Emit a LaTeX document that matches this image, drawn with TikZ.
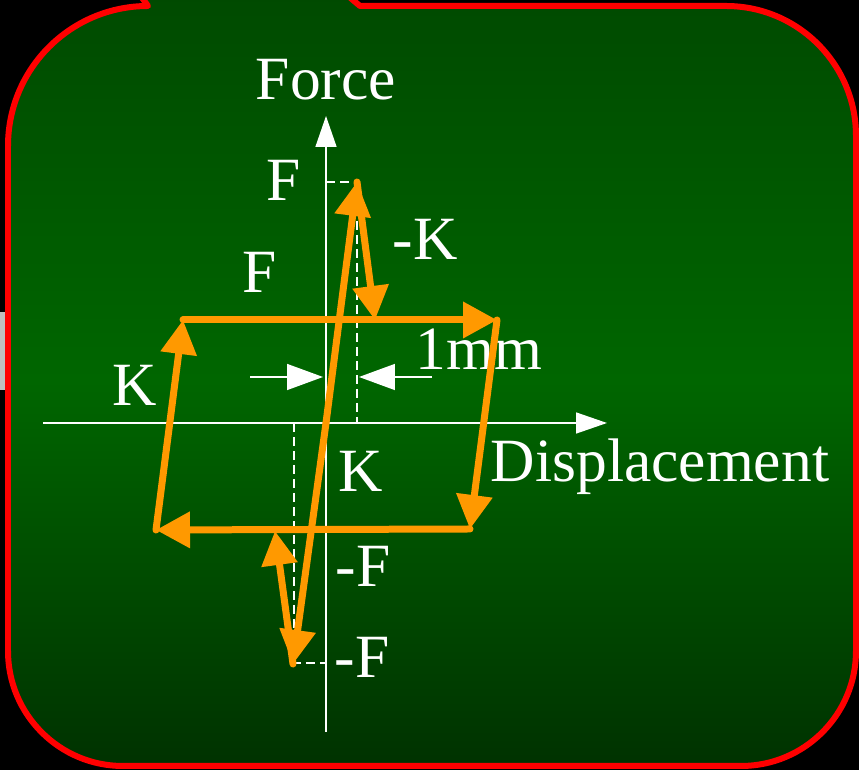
\documentclass[tikz,border=0pt]{standalone}
\usepackage{fontspec}
\setmainfont{Liberation Serif}
\usetikzlibrary{arrows.meta}

\definecolor{loopOrange}{RGB}{255,153,0}
\definecolor{frameRed}{RGB}{255,0,0}
\definecolor{greenTop}{RGB}{0,74,0}
\definecolor{greenMid}{RGB}{0,102,0}
\definecolor{greenBot}{RGB}{0,50,0}

\begin{document}
\begin{tikzpicture}[
    x=0.02cm, y=0.02cm,
    panel/.style={draw=frameRed, line width=0.12cm, line join=round, top color=greenTop, bottom color=greenBot, middle color=greenMid},
    axisline/.style={white, line width=0.03cm, -{Triangle[length=0.62cm, width=0.42cm]}},
    guideline/.style={white, line width=0.03cm, dash pattern=on 0.18cm off 0.1cm},
    dimline/.style={white, line width=0.03cm, -{Triangle[length=0.72cm, width=0.52cm]}},
    hyst/.style={loopOrange, line width=0.14cm, line cap=round, line join=round, -{Triangle[length=0.68cm, width=0.7cm]}},
    lbl/.style={text=white, font=\fontsize{35}{42}\selectfont, inner sep=0pt, anchor=base}
]
    % Canvas
    \useasboundingbox (0,0) rectangle (859,770);
    \fill[black] (0,0) rectangle (859,770);
    \clip (0,0) rectangle (859,770);
    \fill[black!25] (0,380) rectangle (6,458);

    % Panel with callout tail
    \path[panel] (8,624) arc[start angle=180, end angle=90, radius=140]
        -- (140,775) -- (347,775) -- (360,764) -- (726,764)
        arc[start angle=90, end angle=0, radius=130] -- (856,119)
        arc[start angle=0, end angle=-90, radius=115] -- (123,4)
        arc[start angle=270, end angle=180, radius=115] -- cycle;

    % Points
    \coordinate (orig) at (326,347);
    \coordinate (xl) at (43,347);
    \coordinate (xr) at (607,347);
    \coordinate (yb) at (326,38);
    \coordinate (yt) at (326,654);
    \coordinate (tl) at (183,450);
    \coordinate (tr) at (497,450);
    \coordinate (br) at (470,241);
    \coordinate (bl) at (156,240);
    \coordinate (peak) at (357,588);
    \coordinate (unld) at (375,450);
    \coordinate (trough) at (293,106);
    \coordinate (reld) at (275,239);
    \coordinate (peakax) at (326,588);
    \coordinate (peakft) at (357,347);
    \coordinate (troughax) at (326,107);
    \coordinate (troughft) at (294,347);
    \coordinate (troughcr) at (294,107);
    \coordinate (dl1) at (250,393);
    \coordinate (dl2) at (323,393);
    \coordinate (dr1) at (432,393);
    \coordinate (dr2) at (359,393);

    % Axes and guides
    \draw[axisline] (xl) -- (xr);
    \draw[axisline] (yb) -- (yt);
    \draw[guideline] (peakax) -- (peak) -- (peakft);
    \draw[guideline] (troughft) -- (troughcr) -- (troughax);
    \draw[dimline] (dl1) -- (dl2);
    \draw[dimline] (dr1) -- (dr2);

    % Labels
    \node[lbl] (force) at (326,670) {Force};
    \node[lbl] (disp) at (660,288) {Displacement};
    \node[lbl] (fpeak) at (284,569) {F};
    \node[lbl] (fyield) at (259.5,477) {F};
    \node[lbl] (kneg) at (425,510) {-K};
    \node[lbl] (gap) at (479,400) {1mm};
    \node[lbl] (kleft) at (135,364) {K};
    \node[lbl] (kmid) at (361,278) {K};
    \node[lbl] (fnyield) at (363,183) {-F};
    \node[lbl] (fntrough) at (362,92) {-F};

    % Elastic branch
    \draw[hyst] (orig) -- (peak);
    \draw[hyst] (peak) -- (unld);
    \draw[hyst] (orig) -- (trough);
    \draw[hyst] (trough) -- (reld);

    % Friction loop
    \draw[hyst] (tl) -- (tr);
    \draw[hyst] (tr) -- (br);
    \draw[hyst] (br) -- (bl);
    \draw[hyst] (bl) -- (tl);
\end{tikzpicture}
\end{document}
